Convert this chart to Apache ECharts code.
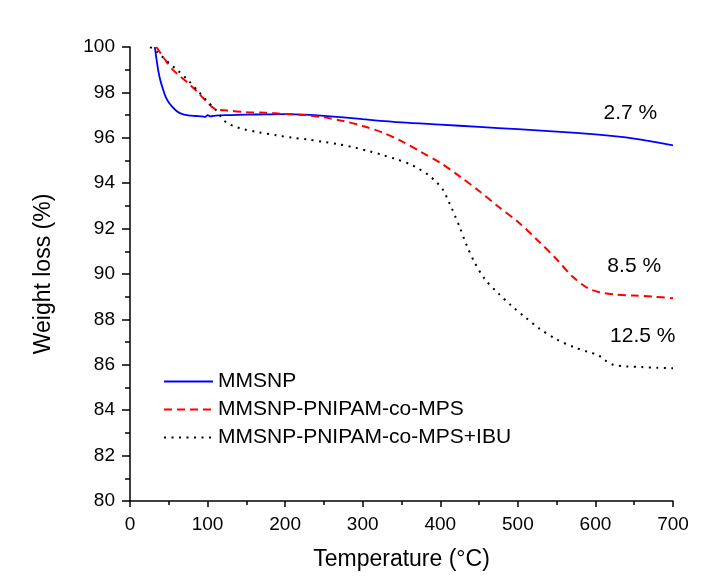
<!DOCTYPE html>
<html>
<head>
<meta charset="utf-8">
<script src="https://cdn.jsdelivr.net/npm/echarts@6/dist/echarts.min.js"></script>
<style>html,body{margin:0;padding:0;background:#fff}#c{width:702px;height:576px}</style>
</head>
<body>
<div id="c"></div>
<script>
var seriesNames = ['MMSNP', 'MMSNP-PNIPAM-co-MPS', 'MMSNP-PNIPAM-co-MPS+IBU'];
var xTicks = [0, 100, 200, 300, 400, 500, 600, 700];
var yTicks = [80, 82, 84, 86, 88, 90, 92, 94, 96, 98, 100];

var mmsnp = [[32,100],[34,99.5],[36.5,98.95],[39,98.55],[42,98.2],[46,97.8],[50,97.55],[54,97.38],[60,97.18],[65,97.08],[75,96.99],[85,96.96],[93,96.94],[97,96.92],[100,97.0],[104,96.94],[110,96.98],[116,96.99],[130,97.0],[150,97.02],[175,97.03],[200,97.04],[225,97.02],[250,96.97],[300,96.82],[350,96.68],[400,96.58],[450,96.48],[500,96.38],[550,96.27],[600,96.15],[630,96.05],[650,95.96],[670,95.85],[700,95.67]];
var pnipam = [[34,100],[45,99.45],[55,99.0],[65,98.7],[77,98.35],[88,97.98],[98,97.62],[106,97.35],[112,97.25],[125,97.2],[150,97.13],[175,97.1],[200,97.05],[225,97.0],[250,96.9],[275,96.74],[300,96.52],[325,96.24],[350,95.85],[375,95.38],[400,94.9],[425,94.3],[450,93.66],[475,92.96],[500,92.3],[525,91.5],[550,90.65],[570,89.9],[590,89.38],[605,89.2],[625,89.1],[650,89.05],[675,89.0],[700,88.93]];
var ibu = [[26,100],[35,99.78],[49,99.34],[62,98.95],[73,98.6],[88,98.05],[100,97.6],[110,97.25],[118,96.9],[125,96.65],[135,96.5],[146,96.38],[165,96.25],[189,96.11],[210,96.0],[228,95.93],[250,95.82],[270,95.71],[290,95.57],[309,95.4],[325,95.25],[342,95.07],[360,94.85],[372,94.64],[385,94.35],[395,94.05],[404,93.68],[410,93.25],[415,92.88],[425,92.07],[434,91.26],[445,90.46],[458,89.75],[475,89.14],[492,88.59],[509,88.11],[528,87.59],[550,87.12],[572,86.78],[591,86.56],[604,86.42],[612,86.2],[623,86.0],[640,85.93],[660,85.9],[680,85.87],[700,85.85]];

var annoText = ['2.7 %', '8.5 %', '12.5 %'];
var annoX = [645, 650, 661];
var annoY = [97.08, 90.34, 87.26];

var font = 'Liberation Sans, Arial, sans-serif';
var chart = echarts.init(document.getElementById('c'), null, {renderer: 'canvas'});
var axisCommon = {
  axisLine: {show: true, onZero: false, lineStyle: {color: '#000', width: 1.5}},
  axisTick: {show: true, inside: false, length: 6, lineStyle: {color: '#000', width: 1.5}},
  minorTick: {show: true, splitNumber: 2, length: 4, lineStyle: {color: '#000', width: 1.5}},
  splitLine: {show: false},
  nameLocation: 'middle'
};
chart.setOption({
  animation: false,
  backgroundColor: '#fff',
  grid: {left: 130, right: 29, top: 47, bottom: 75},
  legend: {
    orient: 'vertical', left: 163, top: 371, padding: 0,
    itemWidth: 49, itemHeight: 14, itemGap: 7,
    itemStyle: {opacity: 0},
    textStyle: {fontFamily: font, fontSize: 21, color: '#000', lineHeight: 20},
    data: seriesNames
  },
  xAxis: Object.assign({}, axisCommon, {
    type: 'value', min: xTicks[0], max: xTicks[xTicks.length - 1], interval: 100,
    name: 'Temperature (°C)', nameGap: 47,
    nameTextStyle: {fontFamily: font, fontSize: 23, color: '#000'},
    axisLabel: {margin: 14, fontFamily: font, fontSize: 19, color: '#000'}
  }),
  yAxis: Object.assign({}, axisCommon, {
    type: 'value', min: yTicks[0], max: yTicks[yTicks.length - 1], interval: 2,
    name: 'Weight loss (%)', nameGap: 75,
    nameTextStyle: {fontFamily: font, fontSize: 23, color: '#000'},
    axisTick: {show: true, inside: false, length: 8, lineStyle: {color: '#000', width: 1.5}},
    minorTick: {show: true, splitNumber: 2, length: 5, lineStyle: {color: '#000', width: 1.5}},
    axisLabel: {margin: 15, fontFamily: font, fontSize: 19, color: '#000'}
  }),
  series: [
    {name: seriesNames[0], type: 'line', data: mmsnp, symbol: 'none', smooth: 0.3,
     lineStyle: {color: '#0000ff', width: 1.8, type: 'solid'}, itemStyle: {color: '#0000ff'}},
    {name: seriesNames[1], type: 'line', data: pnipam, symbol: 'none', smooth: 0.3,
     lineStyle: {color: '#ff0000', width: 2, type: [8, 5]}, itemStyle: {color: '#ff0000'}},
    {name: seriesNames[2], type: 'line', data: ibu, symbol: 'none', smooth: 0.3,
     lineStyle: {color: '#000', width: 2, type: [2, 5.5]}, itemStyle: {color: '#000'}},
    {type: 'scatter', symbolSize: 1, silent: true,
     itemStyle: {opacity: 0},
     data: annoText.map(function (t, i) { return {value: [annoX[i], annoY[i]], name: t}; }),
     label: {show: true, position: 'inside', formatter: function (p) { return p.name; },
             fontFamily: font, fontSize: 21, color: '#000', opacity: 1, textBorderWidth: 0}}
  ]
});
</script>
</body>
</html>
